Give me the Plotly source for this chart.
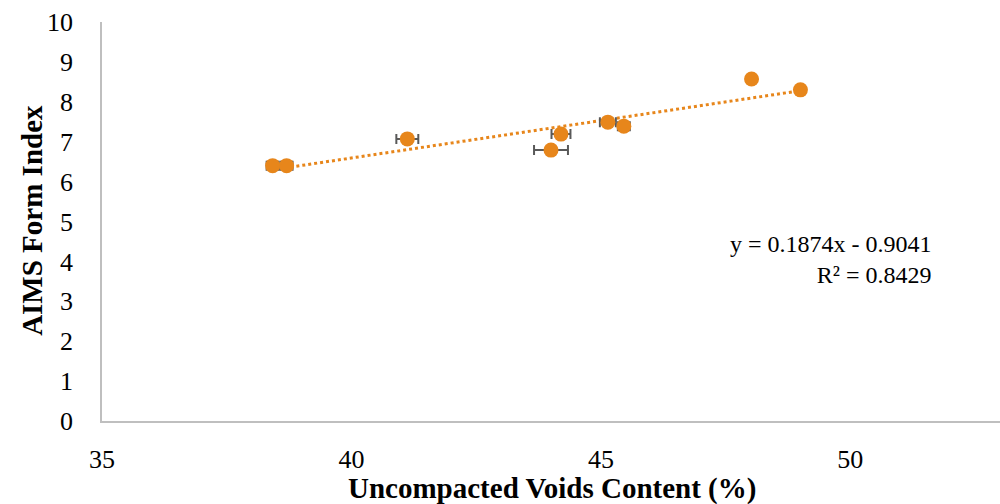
import plotly.graph_objects as go

# values
uvc = [38.42, 38.7, 41.12, 44.0, 44.2, 45.14, 45.46, 48.02, 49.0]
form_index = [6.4, 6.4, 7.07, 6.79, 7.19, 7.49, 7.39, 8.57, 8.3]
uvc_err = [0.12, 0.12, 0.22, 0.34, 0.19, 0.16, 0.12, 0.0, 0.0]

# trendline as printed on the chart
slope = 0.1874
intercept = -0.9041
r2 = 0.8429

orange = "#E7861B"
font = "Liberation Serif, Times New Roman, serif"

x_line = [min(uvc), max(uvc)]
y_line = [slope * x + intercept for x in x_line]

fig = go.Figure()

# trendline first so markers sit on top
fig.add_trace(go.Scatter(
    x=x_line, y=y_line, mode="lines",
    line=dict(color=orange, width=3, dash="dot"),
    hoverinfo="skip", showlegend=False,
))

fig.add_trace(go.Scatter(
    x=uvc, y=form_index, mode="markers",
    marker=dict(color=orange, size=15),
    error_x=dict(type="data", array=uvc_err, color="#595959",
                 thickness=2, width=5),
    showlegend=False,
))

fig.add_annotation(
    xref="paper", yref="paper", x=0.926, y=0.406,
    xanchor="right", yanchor="middle", align="right", showarrow=False,
    text="y = 0.1874x - 0.9041<br>R² = %.4f" % r2,
    font=dict(family=font, size=24, color="black"),
)

# axis titles placed by hand
fig.add_annotation(
    xref="paper", yref="paper", x=0.501, y=-0.17,
    xanchor="center", yanchor="middle", showarrow=False,
    text="<b>Uncompacted Voids Content (%)</b>",
    font=dict(family=font, size=29, color="black"),
)
fig.add_annotation(
    xref="paper", yref="paper", x=-0.078, y=0.504, textangle=-90,
    xanchor="center", yanchor="middle", showarrow=False,
    text="<b>AIMS Form Index</b>",
    font=dict(family=font, size=29, color="black"),
)

fig.update_xaxes(
    range=[35, 53], tickvals=[35, 40, 45, 50], automargin=False,
    showgrid=False, zeroline=False, showline=True,
    linecolor="#BFBFBF", linewidth=1.5, ticks="",
    ticklabelstandoff=14,
    tickfont=dict(family=font, size=26, color="black"),
)
fig.update_yaxes(
    range=[0, 10], dtick=1, automargin=False,
    showgrid=False, zeroline=False, showline=True,
    linecolor="#BFBFBF", linewidth=1.5, ticks="",
    ticklabelstandoff=22,
    tickfont=dict(family=font, size=26, color="black"),
)

fig.update_layout(
    width=1000, height=504,
    margin=dict(l=102, r=0, t=22, b=83),
    plot_bgcolor="white", paper_bgcolor="white",
)

# drop the default page margin so the figure fills the window
fig.write_html("out.html", config={"displayModeBar": False},
               post_script="document.body.style.margin='0';")
